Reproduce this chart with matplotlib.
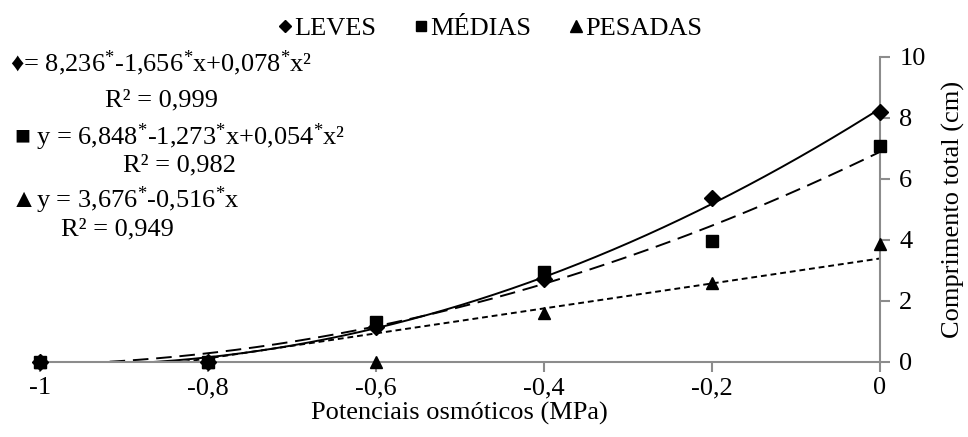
import numpy as np
import matplotlib
matplotlib.use("Agg")
import matplotlib.pyplot as plt
from matplotlib.lines import Line2D

plt.rcParams['font.family'] = ['Liberation Serif', 'DejaVu Sans']
plt.rcParams['mathtext.fontset'] = 'custom'
plt.rcParams['mathtext.rm'] = 'Liberation Serif'
plt.rcParams['mathtext.it'] = 'Liberation Serif'

potenciais = [-1.0, -0.8, -0.6, -0.4, -0.2, 0.0]
leves = [0.0, 0.0, 1.15, 2.7, 5.37, 8.2]
medias = [0.0, 0.0, 1.3, 2.95, 3.95, 7.06]
pesadas = [0.0, 0.0, 0.0, 1.6, 2.6, 3.85]
xticks = [-1.0, -0.8, -0.6, -0.4, -0.2, 0.0]
xticklabels = ['-1', '-0,8', '-0,6', '-0,4', '-0,2', '0']
yticks = [0, 2, 4, 6, 8, 10]

gray = '#8c8c8c'
fs = 19
fig = plt.figure(figsize=(9.68, 4.37), dpi=100)
ax = fig.add_axes([0.041, 0.172, 0.868, 0.698])

xs = np.linspace(-1, 0, 300)
# Excel-style trendlines: least squares fits of the plotted points
for vals, deg, ls in [(leves, 2, '-'), (medias, 2, (0, (8, 4))), (pesadas, 1, (0, (3, 2)))]:
    c = np.polyfit(potenciais, vals, deg)
    ax.plot(xs, np.polyval(c, xs), color='black', lw=1.4, ls=ls, zorder=2)

ax.plot(potenciais, pesadas, '^', color='black', ms=9, zorder=3, clip_on=False)
ax.plot(potenciais, leves, 'D', color='black', ms=8, zorder=4, clip_on=False)
ax.plot(potenciais, medias, 's', color='black', ms=8, zorder=5, clip_on=False)

ax.set_xlim(-1, 0)
ax.set_ylim(0, 10)
ax.set_xticks(xticks)
ax.set_xticklabels(xticklabels)
ax.set_yticks(yticks)
ax.yaxis.tick_right()
ax.yaxis.set_label_position('right')
for s in ['top', 'left']:
    ax.spines[s].set_visible(False)
for s in ['bottom', 'right']:
    ax.spines[s].set_color(gray)
    ax.spines[s].set_linewidth(1.5)
ax.tick_params(axis='both', colors=gray, width=1.5, length=7, labelsize=fs, labelcolor='black')
ax.tick_params(axis='y', pad=7)
ax.tick_params(axis='x', pad=4)
ax.set_xlabel('Potenciais osmóticos (MPa)', fontsize=fs, labelpad=2)
ax.set_ylabel('Comprimento total (cm)', fontsize=fs, labelpad=12)

handles = [Line2D([], [], marker='D', color='black', ls='', ms=6),
           Line2D([], [], marker='s', color='black', ls='', ms=7),
           Line2D([], [], marker='^', color='black', ls='', ms=8)]
fig.legend(handles, ['LEVES', 'MÉDIAS', 'PESADAS'], loc='center', bbox_to_anchor=(0.506, 0.935),
           ncol=3, frameon=False, fontsize=fs, handlelength=0.6, handletextpad=0.05, columnspacing=1.4)

sup = r'$\mathregular{%s^{\!*}\!}$'
eq1 = '♦= 8,23' + sup % '6' + '-1,65' + sup % '6' + 'x+0,07' + sup % '8' + 'x²'
eq2 = '■ y = 6,84' + sup % '8' + '-1,27' + sup % '3' + 'x+0,05' + sup % '4' + 'x²'
eq3 = '▲y = 3,67' + sup % '6' + '-0,51' + sup % '6' + 'x'
fig.text(0.010, 0.856, eq1, fontsize=fs, va='center')
fig.text(0.167, 0.771, 'R² = 0,999', fontsize=fs, va='center', ha='center')
fig.text(0.014, 0.686, eq2, fontsize=fs, va='center')
fig.text(0.185, 0.622, 'R² = 0,982', fontsize=fs, va='center', ha='center')
fig.text(0.010, 0.542, eq3, fontsize=fs, va='center')
fig.text(0.121, 0.474, 'R² = 0,949', fontsize=fs, va='center', ha='center')

fig.savefig('out.png', dpi=100)
